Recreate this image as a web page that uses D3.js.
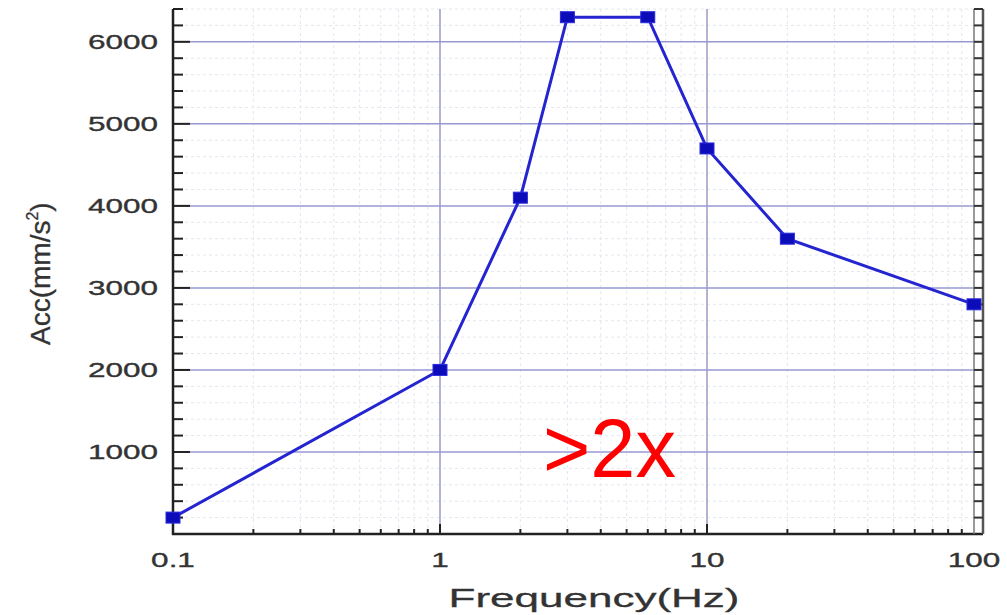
<!DOCTYPE html>
<html>
<head>
<meta charset="utf-8">
<script src="https://cdn.jsdelivr.net/npm/d3@7"></script>
<style>
  body { margin: 0; background: #fff; }
  text { font-family: "Liberation Sans", Arial, sans-serif; }
</style>
</head>
<body>
<svg id="chart" width="1007" height="615"></svg>
<script>
// data
const freqs = [0.1, 1, 2, 3, 6, 10, 20, 100];
const accs = [200, 2000, 4100, 6300, 6300, 4700, 3600, 2800];
const yTicks = [1000, 2000, 3000, 4000, 5000, 6000];
const xTicks = [0.1, 1, 10, 100];
const xTickLabels = ["0.1", "1", "10", "100"];

const svg = d3.select("#chart");
const x = d3.scaleLog().domain([0.1, 100]).range([173, 974]);
const y = d3.scaleLinear().domain([0, 6400]).range([534, 9]);

// minor values
const xMinor = [];
[0.1, 1, 10].forEach(d => { for (let k = 2; k <= 9; k++) xMinor.push(d * k); });
const yMinor = d3.range(200, 6401, 200).filter(v => v % 1000 !== 0);

// minor grid
const grid = svg.append("g");
grid.selectAll(".mx").data(xMinor).enter().append("line")
  .attr("x1", d => x(d)).attr("x2", d => x(d))
  .attr("y1", y(6400)).attr("y2", y(0))
  .attr("stroke", "#e4e7ee").attr("stroke-width", 1).attr("stroke-dasharray", "3,3");
grid.selectAll(".my").data(yMinor).enter().append("line")
  .attr("x1", x(0.1)).attr("x2", x(100))
  .attr("y1", d => y(d)).attr("y2", d => y(d))
  .attr("stroke", "#e4e7ee").attr("stroke-width", 1).attr("stroke-dasharray", "3,3");

// major grid
grid.selectAll(".gx").data([1, 10]).enter().append("line")
  .attr("x1", d => x(d)).attr("x2", d => x(d))
  .attr("y1", y(6400)).attr("y2", y(0))
  .attr("stroke", "#9a9ac4").attr("stroke-width", 1.5);
grid.selectAll(".gy").data(yTicks).enter().append("line")
  .attr("x1", x(0.1)).attr("x2", x(100))
  .attr("y1", d => y(d)).attr("y2", d => y(d))
  .attr("stroke", "#9898d4").attr("stroke-width", 1.5);

// axes frame
const ax = svg.append("g").attr("stroke", "#222");
ax.append("line").attr("x1", x(0.1)).attr("x2", x(0.1)).attr("y1", y(6400)).attr("y2", y(0) + 1).attr("stroke-width", 2.5);
ax.append("line").attr("x1", x(0.1) - 1).attr("x2", x(100) + 9).attr("y1", y(0)).attr("y2", y(0)).attr("stroke-width", 2.5);
// right ladder
ax.append("line").attr("x1", x(100)).attr("x2", x(100)).attr("y1", y(6400)).attr("y2", y(0)).attr("stroke", "#777").attr("stroke-width", 1.5);
ax.append("line").attr("x1", x(100) + 9).attr("x2", x(100) + 9).attr("y1", y(6400)).attr("y2", y(0)).attr("stroke", "#555").attr("stroke-width", 2.5);
ax.selectAll(".rt").data(yMinor.concat(yTicks)).enter().append("line")
  .attr("x1", x(100)).attr("x2", x(100) + 9)
  .attr("y1", d => y(d)).attr("y2", d => y(d))
  .attr("stroke", "#333").attr("stroke-width", 2);

// left ticks (inward)
ax.selectAll(".lt").data(yMinor).enter().append("line")
  .attr("x1", x(0.1)).attr("x2", x(0.1) + 10)
  .attr("y1", d => y(d)).attr("y2", d => y(d)).attr("stroke-width", 2);
ax.selectAll(".lT").data(yTicks).enter().append("line")
  .attr("x1", x(0.1)).attr("x2", x(0.1) + 17)
  .attr("y1", d => y(d)).attr("y2", d => y(d)).attr("stroke-width", 2);

// bottom ticks (inward)
ax.selectAll(".bt").data(xMinor).enter().append("line")
  .attr("x1", d => x(d)).attr("x2", d => x(d))
  .attr("y1", y(0)).attr("y2", y(0) - 5).attr("stroke-width", 2);
ax.selectAll(".bT").data([1, 10]).enter().append("line")
  .attr("x1", d => x(d)).attr("x2", d => x(d))
  .attr("y1", y(0)).attr("y2", y(0) - 10).attr("stroke-width", 2);

// tick labels (the picture is stretched sideways, so the text is too)
svg.selectAll(".yl").data(yTicks).enter().append("text")
  .attr("transform", d => `translate(158,${y(d) + 7.5}) scale(1.5,1)`)
  .attr("text-anchor", "end")
  .attr("font-size", 21).attr("fill", "#333")
  .attr("stroke", "#333").attr("stroke-width", 0.35)
  .text(d => d);
svg.selectAll(".xl").data(xTicks).enter().append("text")
  .attr("transform", d => `translate(${x(d)},567) scale(1.5,1)`)
  .attr("text-anchor", "middle")
  .attr("font-size", 21).attr("fill", "#333")
  .attr("stroke", "#333").attr("stroke-width", 0.35)
  .text((d, i) => xTickLabels[i]);

// axis titles
svg.append("text")
  .attr("x", 594).attr("y", 607)
  .attr("text-anchor", "middle")
  .attr("font-size", 26).attr("fill", "#333")
  .attr("stroke", "#333").attr("stroke-width", 0.3)
  .attr("textLength", 291).attr("lengthAdjust", "spacingAndGlyphs")
  .text("Frequency(Hz)");

const yl = svg.append("text")
  .attr("transform", "translate(50,345) rotate(-90)")
  .attr("font-size", 28).attr("fill", "#333")
  .attr("stroke", "#333").attr("stroke-width", 0.3);
yl.append("tspan").text("Acc(mm/s");
yl.append("tspan").attr("font-size", 16).attr("dy", -12).text("2");
yl.append("tspan").attr("dy", 12).text(")");

// series
const line = d3.line().x((d, i) => x(freqs[i])).y(d => y(d));
svg.append("path").datum(accs)
  .attr("d", line)
  .attr("fill", "none").attr("stroke", "#2424d0").attr("stroke-width", 3);
svg.selectAll(".pt").data(accs).enter().append("rect")
  .attr("x", (d, i) => x(freqs[i]) - 7).attr("y", d => y(d) - 5.5)
  .attr("width", 14).attr("height", 11)
  .attr("fill", "#0c0cb8").attr("stroke", "#2a2ae0").attr("stroke-width", 1);

// annotation
svg.append("text")
  .attr("x", 543).attr("y", 477)
  .attr("font-family", "'Open Sans', 'Liberation Sans', sans-serif")
  .attr("font-size", 84).attr("fill", "#ff0000")
  .attr("textLength", 133).attr("lengthAdjust", "spacingAndGlyphs")
  .text(">2x");
</script>
</body>
</html>
